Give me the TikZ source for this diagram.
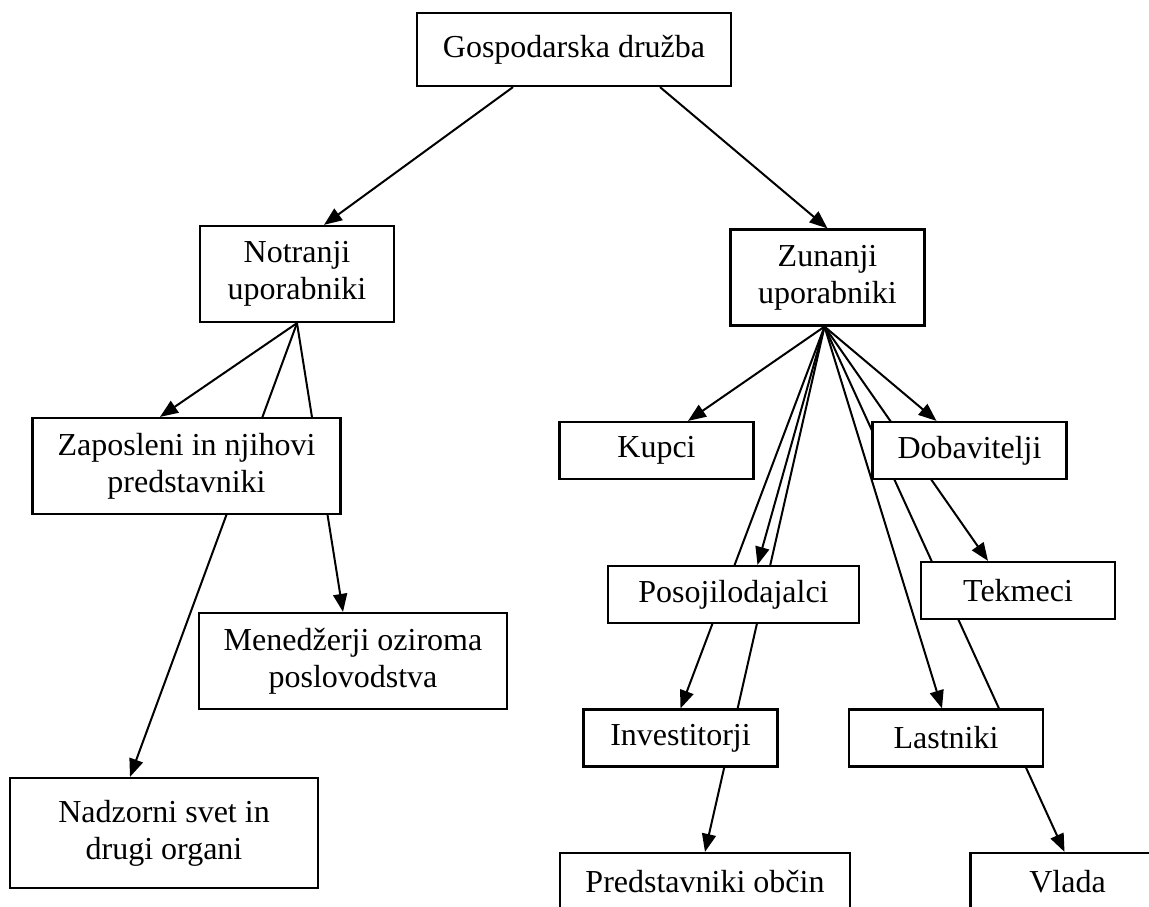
\documentclass[tikz,border=0pt]{standalone}
\usepackage{fontspec}
\setmainfont{Liberation Serif}
\usetikzlibrary{arrows.meta}
\pgfdeclarelayer{bg}
\pgfsetlayers{bg,main}

\begin{document}
\begin{tikzpicture}[x=1pt, y=-1pt,
  box/.style={draw, fill=white, line width=2.2pt, align=center, inner sep=0pt,
    font=\fontsize{32}{37}\selectfont},
  small/.style={box, minimum width=194pt, minimum height=57pt},
  tall/.style={box, minimum width=194pt, minimum height=96pt},
  wide/.style={box, minimum width=308pt, minimum height=96pt},
  link/.style={line width=2pt, -{Triangle[length=18pt, width=14pt]}}]
\useasboundingbox (0,0) rectangle (1149,907);
\node[box, minimum width=314pt, minimum height=73pt] (gd) at (574,49.5) {Gospodarska družba};
\node[tall] (notr) at (297,274) {Notranji\\ uporabniki};
\node[tall] (zun) at (827.5,277.5) {Zunanji\\ uporabniki};
\node[wide] (zap) at (186.5,466) {Zaposleni in njihovi\\ predstavniki};
\node[wide] (men) at (353,661) {Menedžerji oziroma\\ poslovodstva};
\node[wide, minimum height=110pt] (nad) at (164,833) {Nadzorni svet in\\ drugi organi};
\node[small] (kup) at (656.5,450.5) {Kupci};
\node[small] (dob) at (969.5,450.5) {Dobavitelji};
\node[small, minimum width=251pt] (pos) at (733.5,594.5) {Posojilodajalci};
\node[small] (tek) at (1018,590.5) {Tekmeci};
\node[small] (inv) at (680.5,738) {Investitorji};
\node[small] (las) at (946,738) {Lastniki};
\node[small, minimum width=290pt] (pre) at (705,881.5) {Predstavniki občin};
\node[small] (vla) at (1067.5,881.5) {Vlada};

% connectors run behind the boxes
\begin{pgfonlayer}{bg}
\draw[link] ([xshift=-61pt]gd.south) -- ([xshift=27pt]notr.north);
\draw[link] ([xshift=86pt]gd.south) -- (zun.north);
\draw[link] (notr.south) -- ([xshift=-26.5pt]zap.north);
\draw[link] (notr.south) -- ([xshift=-10pt]men.north);
\draw[link] (notr.south) -- ([xshift=-34pt]nad.north);
\draw[link] ([xshift=-3pt]zun.south) -- ([xshift=31.5pt]kup.north);
\draw[link] ([xshift=-3pt]zun.south) -- ([xshift=-33pt]dob.north);
\draw[link] ([xshift=-3pt]zun.south) -- ([xshift=24pt]pos.north);
\draw[link] ([xshift=-3pt]zun.south) -- (inv.north);
\draw[link] ([xshift=-3pt]zun.south) -- (pre.north);
\draw[link] ([xshift=-3pt]zun.south) -- ([xshift=-4pt]las.north);
\draw[link] ([xshift=-3pt]zun.south) -- ([xshift=-30pt]tek.north);
\draw[link] ([xshift=-3pt]zun.south) -- ([xshift=-3pt]vla.north);
\end{pgfonlayer}
\end{tikzpicture}
\end{document}
